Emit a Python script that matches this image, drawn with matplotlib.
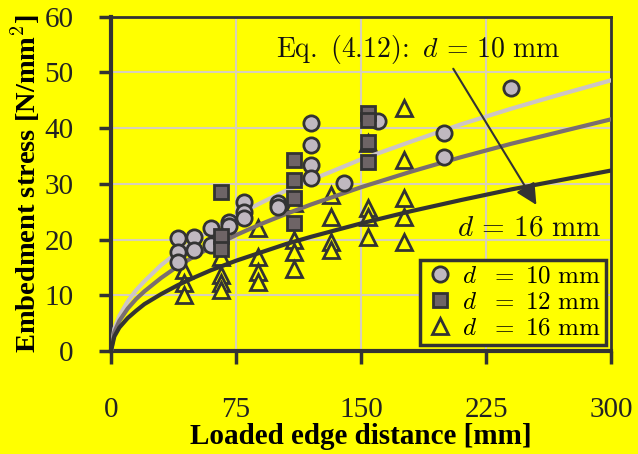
import matplotlib
matplotlib.use('Agg')
import matplotlib.pyplot as plt

# Eq. (4.12) curves
curve_x = [0, 2, 5, 10, 15, 20, 30, 40, 50, 60, 75, 90, 105, 120, 150, 180, 210, 240, 270, 300]
curve_d10 = [0, 4.0, 6.3, 8.9, 10.9, 12.5, 15.4, 17.7, 19.8, 21.7, 24.3, 26.6, 28.8, 30.7, 34.4, 37.6, 40.7, 43.5, 46.1, 48.6]
curve_d12 = [0, 3.4, 5.4, 7.6, 9.3, 10.7, 13.1, 15.2, 17.0, 18.6, 20.8, 22.8, 24.6, 26.3, 29.4, 32.2, 34.8, 37.2, 39.4, 41.6]
curve_d16 = [0, 2.6, 4.2, 5.9, 7.2, 8.4, 10.2, 11.8, 13.2, 14.5, 16.2, 17.7, 19.2, 20.5, 22.9, 25.1, 27.1, 29.0, 30.7, 32.4]

# test results
d10_x = [40, 40, 40, 50, 50, 60, 60, 71, 71, 80, 80, 80, 100, 100, 120, 120, 120, 120, 140, 160, 200, 200, 240]
d10_y = [20.2, 17.8, 16.0, 20.4, 18.1, 22.0, 19.0, 23.2, 22.5, 26.8, 25.0, 23.8, 26.5, 25.8, 40.9, 37.0, 33.4, 31.0, 30.1, 41.2, 39.1, 34.9, 47.2]

d12_x = [66, 66, 66, 110, 110, 110, 110, 154, 154, 154, 154]
d12_y = [28.6, 20.7, 18.3, 34.3, 30.7, 27.5, 22.9, 42.7, 41.5, 37.6, 34.0]

d16_x = [44, 44, 44, 66, 66, 66, 66, 88, 88, 88, 88, 110, 110, 110, 110,
         132, 132, 132, 132, 154, 154, 154, 154, 176, 176, 176, 176, 176]
d16_y = [14.5, 12.2, 10.0, 16.9, 13.6, 12.2, 11.0, 22.0, 16.9, 14.2, 12.4, 26.5, 19.9, 17.8, 14.8,
         28.0, 24.1, 19.6, 18.1, 37.3, 25.6, 24.1, 20.5, 43.6, 34.3, 27.4, 24.1, 19.6]

x_ticks = [0, 75, 150, 225, 300]
y_ticks = [0, 10, 20, 30, 40, 50, 60]

yellow = '#ffff00'
dark = '#333333'

plt.rcParams['mathtext.fontset'] = 'cm'
plt.rcParams['font.family'] = ['Liberation Serif', 'DejaVu Serif']

fig = plt.figure(figsize=(6.38, 4.54), dpi=100, facecolor=yellow)
ax = fig.add_axes([0.174, 0.227, 0.784, 0.736], facecolor=yellow)

ax.grid(True, color='#d8d0b8', lw=1.5)
ax.set_axisbelow(True)

ax.plot(d16_x, d16_y, '^', ms=12, mfc=yellow, mec=dark, mew=2, zorder=2,
        label=r'$d\ \ =\ 16\ \mathrm{mm}$')
ax.plot(curve_x, curve_d10, color='#cdc5c5', lw=3, zorder=3)
ax.plot(curve_x, curve_d12, color='#7a6e70', lw=3, zorder=3)
ax.plot(curve_x, curve_d16, color=dark, lw=3, zorder=3)
ax.plot(d10_x, d10_y, 'o', ms=11, mfc='#c0b8c0', mec=dark, mew=2, zorder=4,
        label=r'$d\ \ =\ 10\ \mathrm{mm}$')
ax.plot(d12_x, d12_y, 's', ms=10, mfc='#6e6466', mec=dark, mew=2, zorder=4,
        label=r'$d\ \ =\ 12\ \mathrm{mm}$')

ax.annotate('', xy=(256, 25.8), xytext=(204.4, 51.1),
            arrowprops=dict(arrowstyle='-|>', mutation_scale=32, color=dark, lw=1.5),
            zorder=5)
ax.text(184, 54.1, r'$\mathrm{Eq.\ (4.12)\!:}\ d\, =\, 10\ \mathrm{mm}$', fontsize=20,
        ha='center', va='center', color='#111111')
ax.text(251, 21.9, r'$d\, =\, 16\ \mathrm{mm}$', fontsize=21,
        ha='center', va='center', color='#111111')

h, l = ax.get_legend_handles_labels()
leg = ax.legend([h[1], h[2], h[0]], [l[1], l[2], l[0]], loc='lower right',
                bbox_to_anchor=(0.99, 0.018), borderaxespad=0, fancybox=False,
                facecolor=yellow, framealpha=1, edgecolor=dark, fontsize=18,
                handletextpad=0.3, borderpad=0.2, labelspacing=0.15, handlelength=1.2)
leg.get_frame().set_linewidth(2.5)

ax.set_xlim(0, 300)
ax.set_ylim(0, 60)
ax.set_xticks(x_ticks)
ax.set_yticks(y_ticks)
ax.tick_params(direction='out', length=9, width=2.5, color=dark, labelsize=21,
               labelcolor='#222222')
ax.tick_params(axis='y', pad=18)
ax.tick_params(axis='x', pad=24)

for side in ['left', 'bottom']:
    ax.spines[side].set_linewidth(3)
for side in ['top', 'right']:
    ax.spines[side].set_linewidth(2)
for s in ax.spines.values():
    s.set_color(dark)

ax.set_xlabel('Loaded edge distance [mm]', fontsize=21, fontweight='bold', labelpad=0)
ax.set_ylabel('Embedment stress [N/mm$^\\mathbf{2}$]', fontsize=20.5, fontweight='bold', labelpad=2)

fig.savefig('out.png', dpi=100, facecolor=yellow)
